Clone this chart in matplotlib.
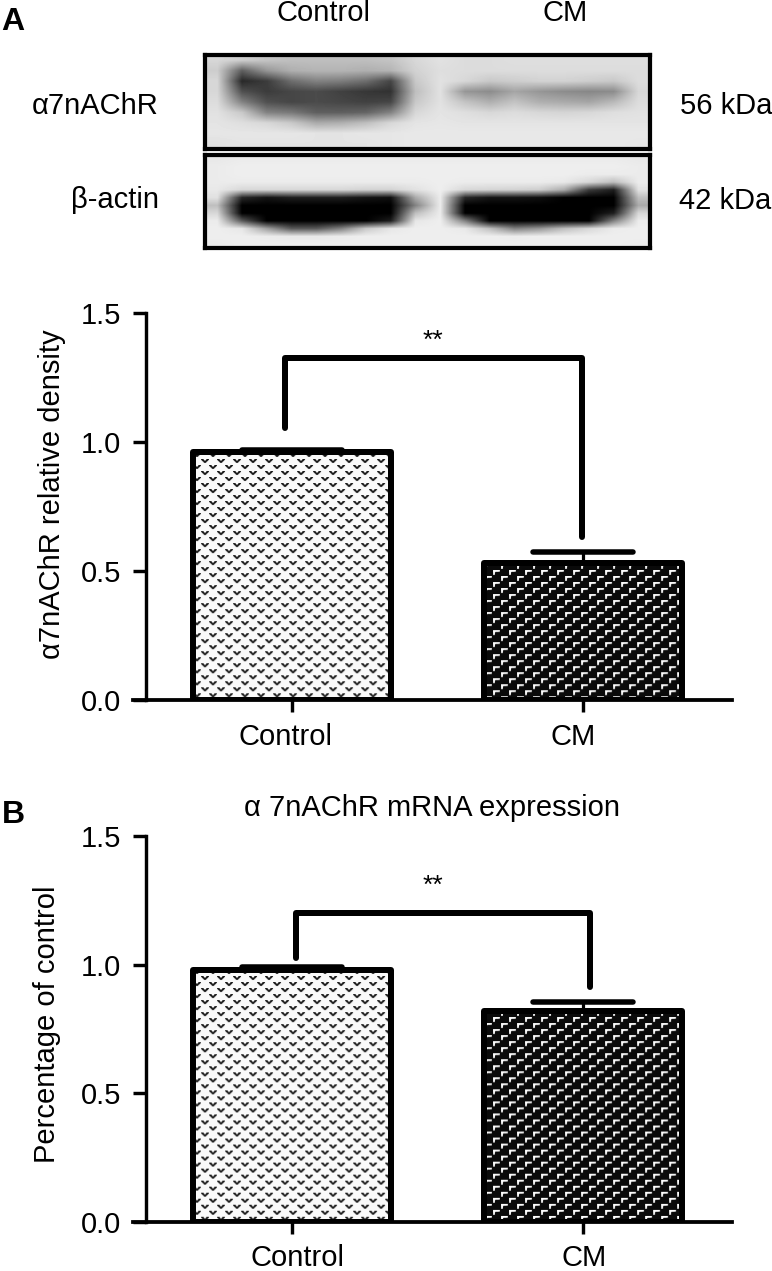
import numpy as np
import matplotlib
matplotlib.use("Agg")
import matplotlib.pyplot as plt
from matplotlib.transforms import ScaledTranslation

plt.rcParams["font.family"] = ["Liberation Sans", "DejaVu Sans"]

W, H = 772, 1271
DPI = 100
PT = 72 / DPI  # one pixel in points
FS = 21

categories = ["Control", "CM"]
yticks = [0.0, 0.5, 1.0, 1.5]

density_means = [0.96, 0.53]
density_tops = [0.97, 0.575]
density_bracket = {"left": 1.055, "right": 0.63, "top": 1.325}

mrna_means = [0.98, 0.82]
mrna_tops = [0.99, 0.855]
mrna_bracket = {"left": 1.027, "right": 0.915, "top": 1.2}

# grey levels read from the blot, coarse grid, smoothed when drawn
blot_receptor = [
    [215, 205, 195, 190, 190, 190, 190, 195, 215, 225, 220, 220, 222, 222, 222, 222, 222, 222],
    [205, 95, 150, 175, 180, 180, 175, 180, 210, 222, 220, 220, 220, 220, 220, 220, 220, 220],
    [215, 40, 60, 110, 130, 125, 110, 70, 200, 225, 215, 200, 205, 210, 210, 205, 200, 220],
    [215, 80, 60, 70, 75, 65, 55, 50, 190, 225, 150, 140, 165, 150, 140, 135, 140, 215],
    [220, 130, 80, 70, 75, 70, 65, 70, 200, 225, 195, 175, 195, 175, 170, 165, 185, 220],
    [225, 200, 130, 120, 95, 95, 100, 130, 215, 228, 222, 215, 220, 215, 212, 215, 222, 225],
    [228, 222, 215, 200, 170, 175, 190, 215, 228, 230, 228, 228, 228, 228, 228, 228, 228, 228],
    [230, 230, 230, 230, 228, 228, 230, 230, 232, 232, 232, 232, 232, 232, 232, 232, 232, 232],
    [225, 228, 228, 228, 228, 228, 228, 230, 232, 232, 232, 232, 232, 232, 232, 232, 232, 230],
]
blot_actin = [
    [232, 235, 235, 235, 235, 235, 235, 235, 235, 235, 235, 235, 235, 235, 235, 235, 235, 232],
    [235, 238, 238, 238, 238, 238, 238, 238, 238, 238, 238, 238, 238, 238, 238, 238, 238, 235],
    [235, 238, 238, 238, 238, 238, 238, 238, 238, 238, 238, 238, 238, 238, 238, 235, 235, 235],
    [235, 235, 235, 235, 235, 235, 235, 235, 235, 238, 235, 235, 235, 235, 232, 215, 190, 235],
    [232, 215, 215, 215, 215, 215, 210, 210, 225, 238, 215, 212, 210, 205, 170, 60, 30, 225],
    [225, 40, 20, 30, 30, 30, 20, 15, 170, 235, 40, 20, 20, 15, 0, 0, 0, 190],
    [190, 0, 0, 0, 0, 0, 0, 0, 130, 235, 0, 0, 0, 0, 0, 0, 0, 170],
    [215, 0, 0, 0, 0, 0, 0, 0, 190, 235, 0, 0, 0, 0, 0, 0, 30, 215],
    [235, 90, 0, 0, 0, 0, 0, 30, 230, 238, 130, 0, 0, 0, 0, 0, 130, 235],
    [238, 230, 160, 90, 90, 130, 200, 230, 238, 238, 232, 190, 130, 150, 190, 215, 235, 238],
    [238, 238, 235, 232, 232, 235, 238, 238, 238, 238, 238, 238, 235, 238, 238, 238, 238, 238],
    [235, 238, 238, 238, 238, 238, 238, 238, 238, 238, 238, 238, 238, 238, 238, 238, 238, 235],
]


def control_tile():
    tile = np.full((12, 16), 250.0)
    motif = np.array([
        [40, 20, 90, 250, 250, 90, 20, 40],
        [200, 40, 20, 120, 120, 20, 40, 200],
        [250, 200, 60, 20, 20, 60, 200, 250],
        [250, 250, 200, 60, 60, 200, 250, 250],
    ])
    tile[1:5, 0:8] = motif
    tile[7:11, 8:16] = motif
    return tile


def cm_tile():
    tile = np.full((12, 16), 10.0)
    motif = np.array([
        [245, 255, 255, 255, 255, 255, 225],
        [245, 255, 235, 215, 215, 200, 150],
        [235, 245, 40, 10, 10, 10, 10],
        [225, 235, 10, 10, 10, 10, 10],
        [200, 190, 10, 10, 10, 10, 10],
    ])
    tile[1:6, 1:8] = motif
    tile[7:12, 9:16] = motif
    return tile


def px_axes(fig, left, top, right, bottom):
    return fig.add_axes([left / W, 1 - bottom / H, (right - left) / W, (bottom - top) / H])


def px_text(fig, x, y, s, **kw):
    kw.setdefault("fontsize", FS)
    kw.setdefault("ha", "center")
    kw.setdefault("va", "center")
    fig.text(x / W, 1 - y / H, s, color="black", **kw)


def draw_blot(fig, top, bottom, grid):
    ax = px_axes(fig, 205, top, 650, bottom)
    ax.imshow(np.array(grid), cmap="gray", vmin=0, vmax=255, aspect="auto", interpolation="bilinear")
    ax.set_xticks([])
    ax.set_yticks([])
    for spine in ax.spines.values():
        spine.set_linewidth(4.2 * PT)


def fill_bar(ax, bar, tile):
    fig = ax.figure
    fig.canvas.draw()
    box = bar.get_window_extent()
    ny = int(np.ceil(box.height / tile.shape[0]))
    nx = int(np.ceil(box.width / tile.shape[1]))
    pattern = np.tile(tile, (ny, nx))
    x0 = bar.get_x()
    dx = tile.shape[1] * nx * bar.get_width() / box.width
    y0 = bar.get_height()
    dy = tile.shape[0] * ny * bar.get_height() / box.height
    im = ax.imshow(pattern, cmap="gray", vmin=0, vmax=255, aspect="auto", interpolation="bilinear",
                   extent=(x0, x0 + dx, y0 - dy, y0), origin="upper", zorder=2)
    im.set_clip_path(bar)


def draw_panel(fig, top, bottom, means, err_tops, bracket, ylabel, label_shift, left_x, right_x, ylabel_x, label_pad):
    ax = px_axes(fig, 133, top, 732, bottom)
    x = np.arange(len(categories))
    xlim = ((133 - 292) / 291, (732 - 292) / 291)
    bars = ax.bar(x, means, width=0.68, facecolor="none", edgecolor="black", linewidth=6 * PT,
                  joinstyle="round", zorder=3)
    ax.set_xlim(xlim)
    ax.set_ylim(0, 1.5)
    for bar, tile in zip(bars, [control_tile(), cm_tile()]):
        fill_bar(ax, bar, tile)
    ax.set_xlim(xlim)
    ax.set_ylim(0, 1.5)

    # error bars, upper side only
    ax.vlines(x, means, err_tops, color="black", linewidth=3.2 * PT, zorder=2.5)
    ax.hlines(err_tops, x - 0.172, x + 0.172, color="black", linewidth=5.5 * PT, capstyle="round", zorder=4)

    # significance bracket
    ax.plot([left_x, left_x, right_x, right_x],
            [bracket["left"], bracket["top"], bracket["top"], bracket["right"]],
            color="black", linewidth=6 * PT, solid_capstyle="round", solid_joinstyle="round", zorder=4)

    ax.spines["top"].set_visible(False)
    ax.spines["right"].set_visible(False)
    ax.spines["left"].set_position(("data", (146 - 292) / 291))
    ax.spines["left"].set_linewidth(3.4 * PT)
    ax.spines["bottom"].set_linewidth(3.8 * PT)
    ax.patch.set_visible(False)

    ax.set_xticks(x)
    ax.set_xticklabels(categories)
    ax.set_yticks(yticks)
    ax.set_yticklabels([f"{v:.1f}" for v in yticks])
    ax.tick_params(axis="x", length=12 * PT, width=3.4 * PT, labelsize=FS, pad=label_pad)
    ax.tick_params(axis="y", length=13 * PT, width=3.4 * PT, labelsize=FS, pad=8.5)
    for label, shift in zip(ax.get_xticklabels(), label_shift):
        label.set_transform(label.get_transform() + ScaledTranslation(shift / DPI, 0, fig.dpi_scale_trans))
    px_text(fig, ylabel_x, (top + bottom) / 2 + ylabel[1], ylabel[0], rotation=90)
    return ax


def main():
    fig = plt.figure(figsize=(W / DPI, H / DPI), dpi=DPI, facecolor="white")

    draw_blot(fig, 55, 149, blot_receptor)
    draw_blot(fig, 155, 248, blot_actin)
    px_text(fig, 324, 13, "Control")
    px_text(fig, 565, 13, "CM")
    px_text(fig, 95, 106, "α7nAChR")
    px_text(fig, 115, 200, "β-actin")
    px_text(fig, 726, 106, "56 kDa")
    px_text(fig, 725, 201, "42 kDa")
    px_text(fig, 13, 22, "A", fontweight="bold", fontsize=23)
    px_text(fig, 13, 815, "B", fontweight="bold", fontsize=23)

    draw_panel(fig, 313, 700, density_means, density_tops, density_bracket,
               ("α7nAChR relative density", -12), [-6, -10], -0.024, 0.997, 52, 8)
    px_text(fig, 433, 341, "**", fontsize=19)

    draw_panel(fig, 836, 1222, mrna_means, mrna_tops, mrna_bracket,
               ("Percentage of control", -5), [5, 1], 0.014, 1.024, 47, 7)
    px_text(fig, 432, 808, "α 7nAChR mRNA expression")
    px_text(fig, 433, 886, "**", fontsize=19)

    fig.savefig("out.png", dpi=DPI)


if __name__ == "__main__":
    main()
